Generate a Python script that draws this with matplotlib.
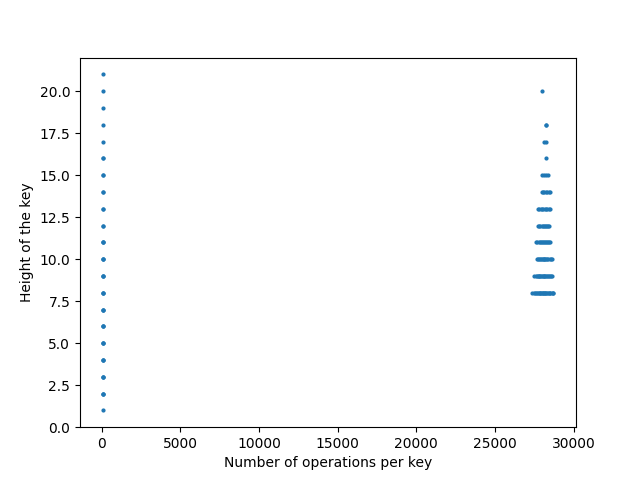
import matplotlib
matplotlib.use("Agg")
import matplotlib.pyplot as plt

# keys with few operations (left cluster)
low_heights = [1, 2, 2, 2, 3, 3, 3, 4, 4, 4, 5, 5, 5, 6, 6, 6, 7, 7, 7, 8, 8, 8,
               9, 9, 9, 10, 10, 10, 11, 11, 11, 12, 12, 13, 13, 14, 14, 15, 15,
               16, 16, 17, 18, 19, 20, 21]
low_ops = [70, 50, 75, 100, 50, 75, 100, 50, 75, 100, 50, 75, 100, 50, 75, 100, 55, 75, 95,
           50, 75, 100, 55, 75, 95, 55, 75, 95, 55, 75, 95, 60, 85, 60, 85, 60, 85, 60, 85,
           65, 80, 70, 70, 70, 70, 70]

# keys with many operations (right cluster), one list per height
ops_h8 = [27380, 27470, 27560, 27630, 27690, 27740, 27790, 27840, 27890, 27930, 27980,
          28030, 28070, 28120, 28160, 28210, 28260, 28310, 28360, 28410, 28470,
          28530, 28600, 28660, 28720]
ops_h9 = [27500, 27580, 27650, 27710, 27770, 27820, 27880, 27930, 27990, 28040, 28090,
          28140, 28200, 28250, 28310, 28370, 28430, 28490, 28560, 28640]
ops_h10 = [27660, 27720, 27790, 27850, 27910, 27970, 28030, 28090, 28150, 28210,
           28270, 28330, 28400, 28470, 28540, 28610]
ops_h11 = [27630, 27700, 27770, 27840, 27910, 27980, 28050, 28120, 28190, 28260,
           28330, 28400, 28460, 28520]
ops_h12 = [27750, 27820, 27890, 27960, 28030, 28100, 28170, 28240, 28310, 28380, 28450]
ops_h13 = [27750, 27830, 27920, 28000, 28080, 28160, 28250, 28330, 28410, 28490]
ops_h14 = [27980, 28060, 28150, 28240, 28330, 28410, 28490]
ops_h15 = [27980, 28100, 28220, 28360]
ops_h16 = [28220]
ops_h17 = [28120, 28230]
ops_h18 = [28230, 28260]
ops_h20 = [27960]

high_rows = [(8, ops_h8), (9, ops_h9), (10, ops_h10), (11, ops_h11), (12, ops_h12),
             (13, ops_h13), (14, ops_h14), (15, ops_h15), (16, ops_h16), (17, ops_h17),
             (18, ops_h18), (20, ops_h20)]

xs = list(low_ops)
ys = list(low_heights)
for h, ops in high_rows:
    xs += ops
    ys += [h] * len(ops)

fig, ax = plt.subplots(figsize=(6.4, 4.8), dpi=100)
ax.scatter(xs, ys, s=4)
ax.set_xlabel('Number of operations per key')
ax.set_ylabel('Height of the key')
fig.savefig('out.png')
